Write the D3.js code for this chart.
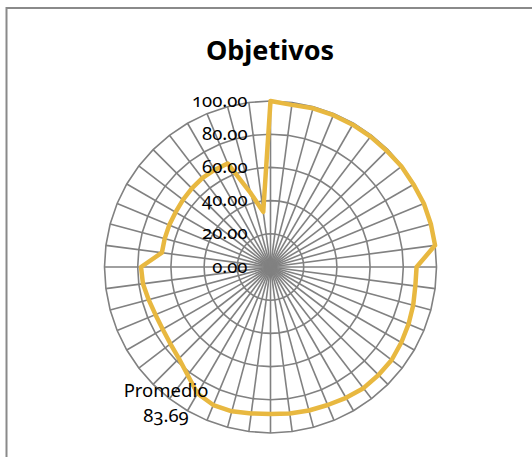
<!DOCTYPE html>
<html>
<head>
<meta charset="utf-8">
<script src="https://cdn.jsdelivr.net/npm/d3@7"></script>
<style>
  body { margin: 0; background: #fff; }
  svg text { font-family: "Noto Sans", "Open Sans", sans-serif; fill: #000; }
  .tick-label { font-size: 18.5px; font-variant-numeric: oldstyle-nums; }
  .title { font-size: 27px; font-weight: bold; }
  .series-label { font-size: 18.5px; font-variant-numeric: oldstyle-nums; }
</style>
</head>
<body>
<div id="chart"></div>
<script>
// 48 categories, unnamed in the chart
const categories = d3.range(1, 49).map(String);

// Series "Promedio", clockwise from the top
const promedio = [
  100, 98.5, 99, 99, 99, 99, 99, 99.5, 99.5, 100, 100, 100,
  88, 88, 89, 90, 91, 92, 92, 92, 91, 90, 89.5, 89,
  88.5, 89, 90, 90, 88, 82, 78, 76, 75, 75, 76, 77.5,
  78, 66, 66, 66, 66, 66.5, 67, 67.5, 67.5, 67.5, 46, 33.5
];

const ticks = [0, 20, 40, 60, 80, 100];
const seriesName = "Promedio";
const seriesLabel = "83.69";

const width = 532;
const height = 457;
const cx = 270.5;
const cy = 267;

const svg = d3.select("#chart")
    .append("svg")
    .attr("width", width)
    .attr("height", height);

// Chart border (only top and left are in view)
svg.append("rect")
    .attr("x", 6.5)
    .attr("y", 8)
    .attr("width", 700)
    .attr("height", 700)
    .attr("fill", "none")
    .attr("stroke", "#8a8a8a")
    .attr("stroke-width", 2);

svg.append("text")
    .attr("class", "title")
    .attr("x", 270)
    .attr("y", 60)
    .attr("text-anchor", "middle")
    .text("Objetivos");

const r = d3.scaleLinear().domain([0, 100]).range([0, 166]);
const angle = d3.scaleBand()
    .domain(categories)
    .range([0, 2 * Math.PI])
    .align(0);

const g = svg.append("g").attr("transform", `translate(${cx},${cy})`);

// Grid rings as 48-sided polygons
const ring = d3.lineRadial()
    .angle(d => angle(d))
    .curve(d3.curveLinearClosed);

g.selectAll(".ring")
    .data(ticks.filter(t => t > 0))
    .enter()
    .append("path")
    .attr("class", "ring")
    .attr("d", t => ring.radius(r(t))(categories))
    .attr("fill", "none")
    .attr("stroke", "#818181")
    .attr("stroke-width", 1.6);

// Spokes
g.selectAll(".spoke")
    .data(categories)
    .enter()
    .append("line")
    .attr("class", "spoke")
    .attr("x1", 0)
    .attr("y1", 0)
    .attr("x2", d => r(100) * Math.sin(angle(d)))
    .attr("y2", d => -r(100) * Math.cos(angle(d)))
    .attr("stroke", "#818181")
    .attr("stroke-width", 1.6);

// Series line
const line = d3.lineRadial()
    .angle((d, i) => angle(categories[i]))
    .radius(d => r(d))
    .curve(d3.curveLinearClosed);

g.append("path")
    .attr("d", line(promedio))
    .attr("fill", "none")
    .attr("stroke", "#E8B840")
    .attr("stroke-width", 4.5)
    .attr("stroke-linejoin", "round");

// Axis labels
g.selectAll(".tick-label")
    .data(ticks)
    .enter()
    .append("text")
    .attr("class", "tick-label")
    .attr("x", -23)
    .attr("y", t => -r(t))
    .attr("dy", "0.3em")
    .attr("text-anchor", "end")
    .text(t => t.toFixed(2));

// Series label
svg.append("text")
    .attr("class", "series-label")
    .attr("x", 166)
    .attr("y", 397)
    .attr("text-anchor", "middle")
    .text(seriesName);

svg.append("text")
    .attr("class", "series-label")
    .attr("x", 166)
    .attr("y", 422)
    .attr("text-anchor", "middle")
    .text(seriesLabel);
</script>
</body>
</html>
